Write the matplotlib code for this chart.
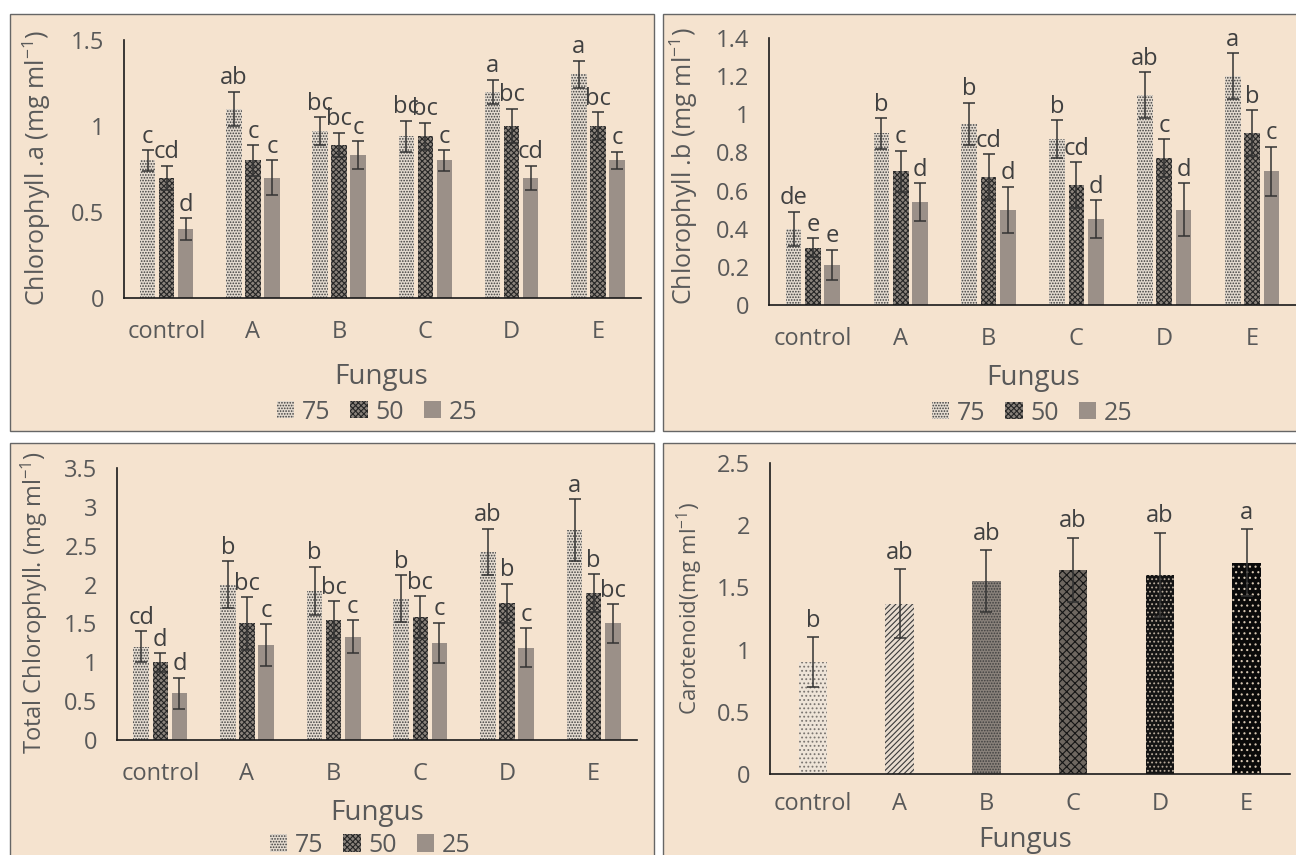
import matplotlib
matplotlib.use('Agg')
import matplotlib.pyplot as plt
import matplotlib.ticker as ticker
from matplotlib.patches import Rectangle, Patch
import numpy as np

plt.rcParams['font.family'] = ['Open Sans', 'DejaVu Sans']
plt.rcParams['mathtext.default'] = 'regular'
plt.rcParams['hatch.linewidth'] = 0.8

# ---- data ----
fungus = ['control', 'A', 'B', 'C', 'D', 'E']
doses = ['75', '50', '25']

chl_a = [[0.80, 1.10, 0.97, 0.94, 1.20, 1.30],
         [0.70, 0.80, 0.89, 0.94, 1.00, 1.00],
         [0.40, 0.70, 0.83, 0.80, 0.70, 0.80]]
chl_a_err = [[0.06, 0.10, 0.08, 0.09, 0.07, 0.08],
             [0.07, 0.09, 0.07, 0.08, 0.10, 0.08],
             [0.065, 0.10, 0.08, 0.06, 0.07, 0.05]]
chl_a_let = [['c', 'ab', 'bc', 'bc', 'a', 'a'],
             ['cd', 'c', 'bc', 'bc', 'bc', 'bc'],
             ['d', 'c', 'c', 'c', 'cd', 'c']]

chl_b = [[0.40, 0.90, 0.95, 0.87, 1.10, 1.20],
         [0.30, 0.70, 0.67, 0.63, 0.77, 0.90],
         [0.21, 0.54, 0.50, 0.45, 0.50, 0.70]]
chl_b_err = [[0.09, 0.08, 0.11, 0.10, 0.12, 0.12],
             [0.05, 0.11, 0.12, 0.12, 0.10, 0.12],
             [0.08, 0.10, 0.12, 0.10, 0.14, 0.13]]
chl_b_let = [['de', 'b', 'b', 'b', 'ab', 'a'],
             ['e', 'c', 'cd', 'cd', 'c', 'b'],
             ['e', 'd', 'd', 'd', 'd', 'c']]

total = [[1.20, 2.00, 1.92, 1.82, 2.42, 2.70],
         [1.00, 1.50, 1.55, 1.58, 1.76, 1.89],
         [0.60, 1.22, 1.33, 1.25, 1.19, 1.50]]
total_err = [[0.20, 0.30, 0.31, 0.30, 0.30, 0.40],
             [0.12, 0.34, 0.24, 0.27, 0.25, 0.24],
             [0.20, 0.27, 0.21, 0.26, 0.25, 0.25]]
total_let = [['cd', 'b', 'b', 'b', 'ab', 'a'],
             ['d', 'bc', 'bc', 'bc', 'b', 'b'],
             ['d', 'c', 'c', 'c', 'c', 'bc']]

carot = [0.90, 1.37, 1.55, 1.64, 1.60, 1.70]
carot_err = [0.20, 0.28, 0.25, 0.26, 0.34, 0.27]
carot_let = ['b', 'ab', 'ab', 'ab', 'ab', 'a']

# ---- styling ----
BG = '#f5e3cf'
TXT = '#595959'
LET = '#404040'
FS = 17

dose_style = [
    dict(facecolor='#e4dbd0', edgecolor='#3c3c3c', hatch='......'),
    dict(facecolor='#8a837c', edgecolor='#262626', hatch='xxxxxx'),
    dict(facecolor='#9b9088', edgecolor='#9b9088', hatch=None),
]
carot_style = [
    dict(facecolor='#eee4d8', edgecolor='#7a7570', hatch='....'),
    dict(facecolor='#e8dccf', edgecolor='#3a3a3a', hatch='//////'),
    dict(facecolor='#8a827b', edgecolor='#3f3f3f', hatch='......'),
    dict(facecolor='#6e6760', edgecolor='#151515', hatch='xxxx'),
    dict(facecolor='#141414', edgecolor='#b8ab9c', hatch='....'),
    dict(facecolor='#0a0a0a', edgecolor='#d6c6b2', hatch='...'),
]
err_kw = dict(ecolor='#333333', elinewidth=1.1, capsize=4, capthick=1.1)

W, H = 1296, 855
fig = plt.figure(figsize=(W / 100, H / 100), dpi=100)
fig.patch.set_facecolor('white')


def px_axes(left, right, bottom, top):
    return fig.add_axes([left / W, 1 - bottom / H, (right - left) / W, (bottom - top) / H])


def panel_box(x0, y0, x1, y1):
    fig.add_artist(Rectangle((x0 / W, 1 - y1 / H), (x1 - x0) / W, (y1 - y0) / H,
                             transform=fig.transFigure, facecolor=BG,
                             edgecolor='#666666', linewidth=1.0, zorder=-1))


def style_axes(ax, ymax, step, pad_x):
    ax.set_facecolor('none')
    ax.set_xlim(-0.5, 5.5)
    ax.set_ylim(0, ymax)
    ax.yaxis.set_major_locator(ticker.MultipleLocator(step))
    ax.yaxis.set_major_formatter(ticker.FuncFormatter(lambda v, p: f'{round(v, 2):g}'))
    ax.set_xticks(range(len(fungus)))
    ax.set_xticklabels(fungus)
    for s in ['top', 'right']:
        ax.spines[s].set_visible(False)
    for s in ['left', 'bottom']:
        ax.spines[s].set_color('#1a1a1a')
        ax.spines[s].set_linewidth(1.2)
    ax.tick_params(axis='both', length=0, labelsize=FS, labelcolor=TXT)
    ax.tick_params(axis='y', pad=14)
    ax.tick_params(axis='x', pad=pad_x)


def grouped(ax, vals, errs, lets):
    x = np.arange(len(fungus))
    w = 0.18
    offs = [-0.22, 0.0, 0.22]
    for i in range(3):
        ax.bar(x + offs[i], vals[i], w, yerr=errs[i], error_kw=err_kw,
               linewidth=0, **dose_style[i])
        for j in range(len(fungus)):
            ax.annotate(lets[i][j], (x[j] + offs[i], vals[i][j] + errs[i][j]),
                        xytext=(0, 1), textcoords='offset points', ha='center',
                        va='bottom', fontsize=FS, color=LET)


def legend_at(cx, cy):
    handles = [Patch(linewidth=0, **dose_style[i]) for i in range(3)]
    lg = fig.legend(handles, doses, loc='center', bbox_to_anchor=(cx / W, 1 - cy / H),
                    ncol=3, frameon=False, handlelength=0.7, handleheight=0.7,
                    handletextpad=0.3, columnspacing=0.8, fontsize=FS + 1)
    for t in lg.get_texts():
        t.set_color(TXT)


# panel backgrounds
panel_box(10, 14, 654, 431)
panel_box(663, 14, 1310, 431)
panel_box(10, 443, 654, 870)
panel_box(663, 443, 1310, 870)

# ---- Chlorophyll a ----
ax1 = px_axes(123.5, 641, 298, 40)
style_axes(ax1, 1.5, 0.5, 16)
grouped(ax1, chl_a, chl_a_err, chl_a_let)
fig.text(37 / W, 1 - 168 / H, 'Chlorophyll .a (mg ml$^{-1}$)', rotation=90,
         ha='center', va='center', fontsize=FS + 1, color=TXT)
fig.text(381 / W, 1 - 377 / H, 'Fungus', ha='center', va='center', fontsize=FS + 3, color=TXT)
legend_at(377, 412)

# ---- Chlorophyll b ----
ax2 = px_axes(769, 1296, 305, 38)
style_axes(ax2, 1.4, 0.2, 16)
grouped(ax2, chl_b, chl_b_err, chl_b_let)
fig.text(684 / W, 1 - 166 / H, 'Chlorophyll .b (mg ml$^{-1}$)', rotation=90,
         ha='center', va='center', fontsize=FS + 1, color=TXT)
fig.text(1033 / W, 1 - 378 / H, 'Fungus', ha='center', va='center', fontsize=FS + 3, color=TXT)
legend_at(1032, 413)

# ---- Total chlorophyll ----
ax3 = px_axes(117, 637, 740, 468)
style_axes(ax3, 3.5, 0.5, 16)
grouped(ax3, total, total_err, total_let)
fig.text(34 / W, 1 - 603 / H, 'Total Chlorophyll. (mg ml$^{-1}$)', rotation=90,
         ha='center', va='center', fontsize=FS, color=TXT)
fig.text(377 / W, 1 - 813 / H, 'Fungus', ha='center', va='center', fontsize=FS + 3, color=TXT)
legend_at(370, 845)

# ---- Carotenoid ----
ax4 = px_axes(769.5, 1290, 774, 463)
style_axes(ax4, 2.5, 0.5, 13)
x = np.arange(len(fungus))
for j in range(len(fungus)):
    ax4.bar(x[j], carot[j], 0.33, yerr=carot_err[j], error_kw=err_kw,
            linewidth=0, **carot_style[j])
    ax4.annotate(carot_let[j], (x[j], carot[j] + carot_err[j]), xytext=(0, 3),
                 textcoords='offset points', ha='center', va='bottom',
                 fontsize=FS, color=LET)
fig.text(690 / W, 1 - 608 / H, 'Carotenoid(mg ml$^{-1}$)', rotation=90,
         ha='center', va='center', fontsize=FS - 1, color=TXT)
fig.text(1025 / W, 1 - 840 / H, 'Fungus', ha='center', va='center', fontsize=FS + 3, color=TXT)

fig.savefig('out.png', dpi=100, facecolor='white')
